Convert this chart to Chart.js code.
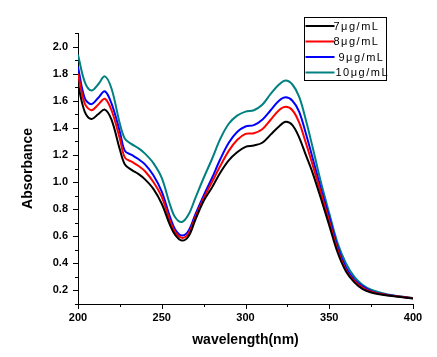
<!DOCTYPE html>
<html>
<head>
<meta charset="utf-8">
<script src="https://cdn.jsdelivr.net/npm/chart.js@4.4.1/dist/chart.umd.min.js"></script>
<style>
html,body{margin:0;padding:0;background:#fff;}
canvas{display:block;}
</style>
</head>
<body>
<canvas id="c" width="437" height="357"></canvas>
<script>
const wavelengths = [200,204,208,212,216,220,225,228,232,236,240,245,250,255,258,262,266,270,275,280,285,290,295,300,305,310,315,320,324,328,332,336,340,345,350,355,360,365,370,375,380,385,390,395,400];
const abs7 = [1.72,1.52,1.465,1.50,1.535,1.46,1.24,1.13,1.09,1.06,1.02,0.95,0.84,0.68,0.61,0.568,0.60,0.72,0.86,0.96,1.07,1.16,1.22,1.26,1.27,1.29,1.35,1.41,1.445,1.42,1.33,1.20,1.07,0.88,0.68,0.48,0.34,0.26,0.21,0.185,0.172,0.163,0.155,0.148,0.14];
const abs8 = [1.80,1.58,1.53,1.57,1.615,1.53,1.32,1.18,1.15,1.12,1.08,1.00,0.89,0.71,0.63,0.588,0.62,0.74,0.88,1.00,1.12,1.23,1.31,1.355,1.36,1.39,1.46,1.53,1.555,1.53,1.44,1.29,1.13,0.92,0.71,0.50,0.35,0.27,0.22,0.19,0.175,0.165,0.157,0.15,0.142];
const abs9 = [1.85,1.62,1.575,1.62,1.67,1.58,1.37,1.23,1.20,1.17,1.13,1.05,0.93,0.74,0.65,0.605,0.64,0.76,0.90,1.03,1.17,1.29,1.37,1.41,1.42,1.46,1.53,1.60,1.625,1.60,1.52,1.36,1.18,0.95,0.74,0.52,0.37,0.28,0.23,0.195,0.178,0.167,0.158,0.15,0.143];
const abs10 = [1.94,1.74,1.675,1.72,1.78,1.69,1.43,1.32,1.28,1.25,1.21,1.14,1.03,0.83,0.74,0.705,0.76,0.88,1.03,1.17,1.32,1.43,1.49,1.52,1.53,1.57,1.65,1.72,1.75,1.72,1.63,1.46,1.26,1.00,0.77,0.55,0.40,0.30,0.24,0.205,0.185,0.17,0.16,0.152,0.144];
const seriesLabels = ['7μg/mL','8μg/mL','9μg/mL','10μg/mL'];
const seriesColors = ['#000000','#ff0000','#0000ff','#008080'];
const xTicks = [200,225,250,275,300,325,350,375,400];
const xLabelTicks = [200,250,300,350,400];
const yTicks = [0.1,0.2,0.3,0.4,0.5,0.6,0.7,0.8,0.9,1.0,1.1,1.2,1.3,1.4,1.5,1.6,1.7,1.8,1.9,2.0,2.1];
const yLabelTicks = ['0.2','0.4','0.6','0.8','1.0','1.2','1.4','1.6','1.8','2.0'];

const allSeries = [abs7, abs8, abs9, abs10];
const FONT = '"Liberation Sans", Arial, sans-serif';

const tickPlugin = {
  id: 'tickMarks',
  afterDraw(chart) {
    const ctx = chart.ctx;
    const xs = chart.scales.x, ys = chart.scales.y;
    ctx.save();
    ctx.strokeStyle = '#000';
    ctx.lineWidth = 1;
    xs.ticks.forEach(t => {
      const px = Math.round(xs.getPixelForValue(t.value)) + 0.5;
      const len = xLabelTicks.includes(t.value) ? 5 : 3;
      ctx.beginPath();
      ctx.moveTo(px, xs.top);
      ctx.lineTo(px, xs.top + len);
      ctx.stroke();
    });
    ys.ticks.forEach(t => {
      const py = Math.round(ys.getPixelForValue(t.value)) + 0.5;
      const len = yLabelTicks.includes(t.value.toFixed(1)) ? 5 : 3;
      ctx.beginPath();
      ctx.moveTo(ys.right, py);
      ctx.lineTo(ys.right - len, py);
      ctx.stroke();
    });
    ctx.restore();
  }
};

const legendPlugin = {
  id: 'boxLegend',
  afterDraw(chart) {
    const ctx = chart.ctx;
    const bx = 304.5, by = 17.5, bw = 82, bh = 63;
    ctx.save();
    ctx.strokeStyle = '#000';
    ctx.lineWidth = 1;
    ctx.strokeRect(bx, by, bw, bh);
    ctx.font = '11px ' + FONT;
    ctx.letterSpacing = '1.5px';
    ctx.textBaseline = 'middle';
    ctx.fillStyle = '#000';
    chart.data.datasets.forEach((ds, i) => {
      const y = 26 + i * 15.5;
      ctx.strokeStyle = ds.borderColor;
      ctx.lineWidth = 2;
      ctx.beginPath();
      ctx.moveTo(bx + 1, y);
      ctx.lineTo(bx + 30, y);
      ctx.stroke();
      ctx.fillStyle = '#000';
      const tx = (i === 2) ? bx + 34 : (i === 3 ? bx + 31 : bx + 29);
      ctx.fillText(ds.label, tx, y + 0.5);
    });
    ctx.restore();
  }
};

new Chart(document.getElementById('c'), {
  type: 'line',
  data: {
    datasets: allSeries.map((s, i) => ({
      label: seriesLabels[i],
      data: wavelengths.map((w, j) => ({x: w, y: s[j]})),
      borderColor: seriesColors[i],
      backgroundColor: seriesColors[i],
      borderWidth: 2,
      pointRadius: 0,
      tension: 0.35,
      fill: false
    }))
  },
  options: {
    responsive: false,
    animation: false,
    layout: {padding: {left: 0, top: 33, right: 24, bottom: 0}},
    plugins: {legend: {display: false}, tooltip: {enabled: false}},
    scales: {
      x: {
        type: 'linear',
        min: 200, max: 400,
        grid: {display: false, drawTicks: false},
        border: {display: true, color: '#000', width: 1},
        afterBuildTicks: s => { s.ticks = xTicks.map(v => ({value: v})); },
        afterFit: s => { s.height = 53; },
        ticks: {
          color: '#000',
          padding: 7,
          maxRotation: 0,
          autoSkip: false,
          font: {family: FONT, size: 11, weight: 'bold'},
          callback: v => xLabelTicks.includes(v) ? String(v) : ''
        },
        title: {
          display: true,
          text: 'wavelength(nm)',
          color: '#000',
          font: {family: FONT, size: 14, weight: 'bold'},
          padding: {top: 8, bottom: 8}
        }
      },
      y: {
        type: 'linear',
        min: 0.1, max: 2.1,
        grid: {display: false, drawTicks: false},
        border: {display: true, color: '#000', width: 1},
        afterBuildTicks: s => { s.ticks = yTicks.map(v => ({value: v})); },
        afterFit: s => { s.width = 78; },
        ticks: {
          color: '#000',
          padding: 10,
          autoSkip: false,
          font: {family: FONT, size: 11, weight: 'bold'},
          callback: v => yLabelTicks.includes(Number(v).toFixed(1)) ? Number(v).toFixed(1) : ''
        },
        title: {
          display: true,
          text: 'Absorbance',
          color: '#000',
          font: {family: FONT, size: 14, weight: 'bold'},
          padding: {top: 20, bottom: 20}
        }
      }
    }
  },
  plugins: [tickPlugin, legendPlugin]
});
</script>
</body>
</html>
